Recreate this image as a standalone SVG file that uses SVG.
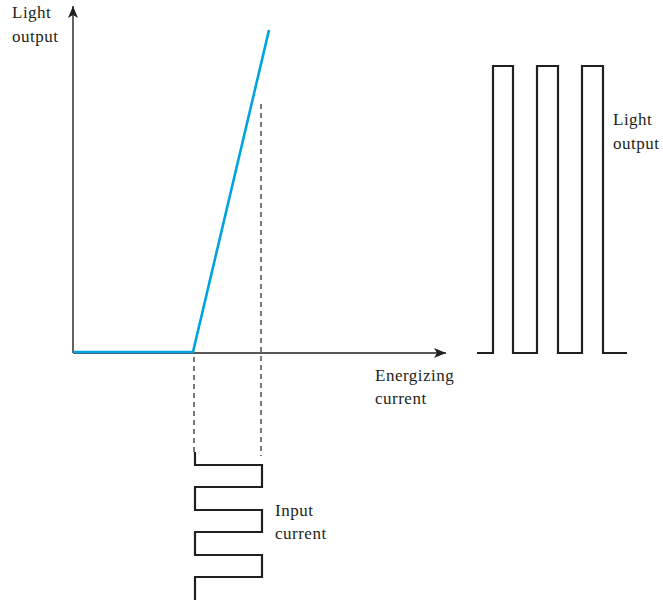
<svg xmlns="http://www.w3.org/2000/svg" width="663" height="600" viewBox="0 0 663 600">
<style>
.t{font-family:"Liberation Serif","DejaVu Serif",serif;font-size:17px;letter-spacing:0.5px;fill:#231f20}
.ax{stroke:#231f20;stroke-width:1.4;fill:none}
.w{stroke:#231f20;stroke-width:2.2;fill:none;stroke-linejoin:miter}
.d{stroke:#231f20;stroke-width:1.2;fill:none;stroke-dasharray:5,4}
.b{stroke:#00a3e0;stroke-width:2.6;fill:none;stroke-linejoin:round}
</style>
<defs>
<marker id="ah" markerWidth="14" markerHeight="10" refX="12" refY="5" orient="auto" markerUnits="userSpaceOnUse">
<path d="M0,0 L12,5 L0,10 L3,5 Z" fill="#231f20"/>
</marker>
</defs>
<g id="connectors">
<line class="ax" x1="73" y1="353" x2="73" y2="6" marker-end="url(#ah)"/>
<line class="ax" x1="73" y1="353" x2="446" y2="353" marker-end="url(#ah)"/>
<line class="d" x1="261" y1="104" x2="261" y2="456"/>
<line class="d" x1="194" y1="357" x2="194" y2="452"/>
</g>
<g id="transfer-curve">
<polyline class="b" points="73,352 193,352 269,30"/>
</g>
<g id="input-current">
<polyline class="w" points="195,452 195,465 262,465 262,487 195,487 195,510 262,510 262,532 195,532 195,555 262,555 262,577 195,577 195,600"/>
</g>
<g id="light-output-wave">
<polyline class="w" points="477,353 493,353 493,66 513,66 513,353 537,353 537,66 558,66 558,353 582,353 582,66 603,66 603,353 627,353"/>
</g>
<g id="labels">
<text class="t" x="12" y="18">Light</text>
<text class="t" x="12" y="42">output</text>
<text class="t" x="375" y="381">Energizing</text>
<text class="t" x="375" y="404">current</text>
<text class="t" x="275" y="516">Input</text>
<text class="t" x="275" y="539">current</text>
<text class="t" x="613" y="125">Light</text>
<text class="t" x="613" y="149">output</text>
</g>
</svg>
